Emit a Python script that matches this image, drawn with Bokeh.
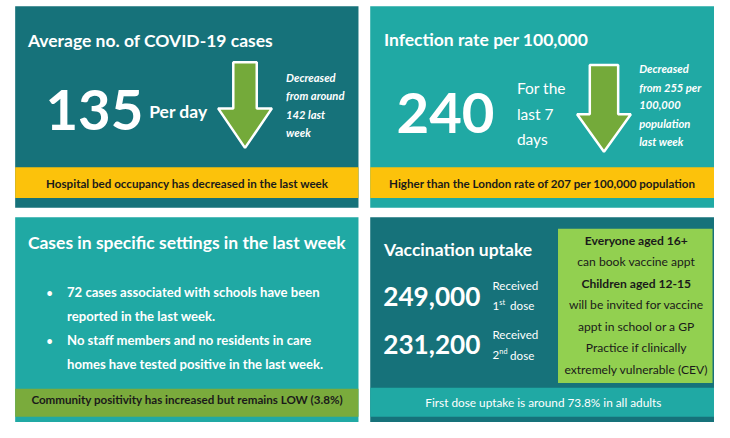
from bokeh.plotting import figure
from bokeh.models import Range1d, ColumnDataSource
from bokeh.core.properties import value
from bokeh.embed import file_html
from bokeh.resources import INLINE

# ---------------- data ----------------
avg_cases_per_day = 135
avg_cases_prev = 142
infection_rate = 240
infection_rate_prev = 255
london_rate = 207
school_cases = 72
community_positivity = 3.8
first_dose = 249000
second_dose = 231200
first_dose_uptake = 73.8

# ---------------- styling ----------------
FONT = "Lato"
DARK = "#16727a"
LIGHT = "#20a9a4"
YELLOW = "#fcc20b"
GREEN_BAND = "#7aab3c"
GREEN_BOX = "#92d050"
ARROW = "#74aa3a"
INK = "#1a1a1a"
S = 0.97  # font scale (page is drawn slightly smaller than the reference)

p = figure(width=714, height=422, output_backend="svg", toolbar_location=None,
           x_range=Range1d(0, 730), y_range=Range1d(438, 0), min_border=0)
p.axis.visible = False
p.grid.visible = False
p.outline_line_color = None
p.background_fill_color = "white"


def box(l, r, t, b, color):
    p.quad(left=[l], right=[r], top=[t], bottom=[b], fill_color=color, line_color=None)


def txt(x, y, s, size, color="white", style="bold", align="left"):
    src = ColumnDataSource(dict(x=[x], y=[y], t=[s]))
    p.text(x="x", y="y", text="t", source=src, text_font=value(FONT),
           text_font_size=f"{size * S:.1f}px", text_font_style=style, text_color=color,
           text_align=align, text_baseline="middle")


def arrow(cx, top, neck, tip, shaft_w, head_w):
    xs = [cx - shaft_w / 2, cx + shaft_w / 2, cx + shaft_w / 2, cx + head_w / 2, cx,
          cx - head_w / 2, cx - shaft_w / 2]
    ys = [top, top, neck, neck, tip, neck, neck]
    p.patch(xs, ys, fill_color=ARROW, line_color="white", line_width=2.5)


# panels
box(15, 366, 6, 215, DARK)
box(15, 366, 173, 205, YELLOW)
box(378, 730, 6, 215, LIGHT)
box(378, 730, 173, 205, YELLOW)
box(15, 366, 225, 438, LIGHT)
box(15, 366, 403, 432, GREEN_BAND)
box(378, 730, 225, 438, DARK)
box(378, 730, 402, 432, LIGHT)
box(570, 728, 237, 397, GREEN_BOX)

# panel 1
txt(28, 42, "Average no. of COVID-19 cases", 18)
txt(96, 114, f"{avg_cases_per_day}", 58, align="center")
txt(152, 115, "Per day", 18)
arrow(250, 64, 112, 153, 24, 55)
for i, s in enumerate(["Decreased", "from around", f"{avg_cases_prev} last", "week"]):
    txt(292, 80 + i * 19, s, 11.5, style="bold italic")
txt(191, 190, "Hospital bed occupancy has decreased in the last week", 12,
    color=INK, align="center")

# panel 2
txt(392, 40, "Infection rate per 100,000", 18)
txt(455, 117, f"{infection_rate}", 58, align="center")
for i, s in enumerate(["For the", "last 7", "days"]):
    txt(528, 91 + i * 26.5, s, 16, style="normal")
arrow(617, 67, 118, 157, 29, 55)
for i, s in enumerate(["Decreased", f"from {infection_rate_prev} per", "100,000",
                       "population", "last week"]):
    txt(653, 71 + i * 18.8, s, 11.5, style="bold italic")
txt(554, 190, f"Higher than the London rate of {london_rate} per 100,000 population", 12,
    color=INK, align="center")

# panel 3
txt(28, 251, "Cases in specific settings in the last week", 18)
bullets = [
    [f"{school_cases} cases associated with schools have been", "reported in the last week."],
    ["No staff members and no residents in care",
     "homes have tested positive in the last week."],
]
yy = 303
for lines in bullets:
    txt(47, yy, "\u2022", 11)
    for s in lines:
        txt(68, yy, s, 13.5)
        yy += 24.7
txt(191, 414, f"Community positivity has increased but remains LOW ({community_positivity}%)", 12,
    color=INK, align="center")

# panel 4
txt(392, 258, "Vaccination uptake", 18)
txt(441, 307, f"{first_dose:,}", 27, align="center")
txt(441, 357, f"{second_dose:,}", 27, align="center")
for y0, n, sup in [(296, "1", "st"), (347, "2", "nd")]:
    txt(503, y0, "Received", 12, style="normal")
    txt(503, y0 + 21, n, 12, style="normal")
    txt(510, y0 + 17, sup, 7.5, style="normal")
    txt(521, y0 + 21, "dose", 12, style="normal")
box_lines = [("Everyone aged 16+", "bold"), ("can book vaccine appt", "normal"),
             ("Children aged 12-15", "bold"), ("will be invited for vaccine", "normal"),
             ("appt in school or a GP", "normal"), ("Practice if clinically", "normal"),
             ("extremely vulnerable (CEV)", "normal")]
for i, (s, st) in enumerate(box_lines):
    txt(650, 249 + i * 22.3, s, 12.5, color=INK, style=st, align="center")
txt(555, 417, f"First dose uptake is around {first_dose_uptake}% in all adults", 12.2,
    style="normal", align="center")

open("out.html", "w").write(file_html(p, INLINE))
